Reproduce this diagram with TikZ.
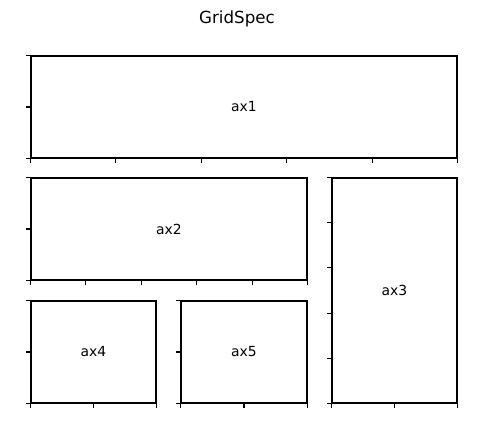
\documentclass[tikz,border=0pt]{standalone}
\usepackage{fontspec}
\setmainfont{DejaVu Sans}
\usetikzlibrary{calc,positioning}
\tikzset{
    axbox/.style 2 args={draw, line width=0.8pt, inner sep=0pt,
        minimum width={#1*0.72pt}, minimum height={#2*0.72pt}},
    tick/.style={line width=0.8pt}
}

\begin{document}
\begin{tikzpicture}[x=0.72pt, y=-0.72pt, font=\fontsize{10}{12}\selectfont]
                        \useasboundingbox (0,0) rectangle (497,427);
                        \node[font=\fontsize{12}{14}\selectfont] (title) at (237,19) {GridSpec};
                        \node[axbox={426}{102}] (ax1) at (244,107) {ax1};
                        \node[axbox={276}{102}] (ax2) at (169,229) {ax2};
                        \node[axbox={125}{225}] (ax3) at (394.5,290.5) {ax3};
                        \node[axbox={125}{102}] (ax4) at (93.5,352) {ax4};
                        \node[axbox={126}{102}] (ax5) at (244,352) {ax5};
                        % ticks
                        \foreach \i in {0,...,5} {
                            \draw[tick] ($(ax1.south west)!\i/5!(ax1.south east)$) -- ++(0,4);
                            \draw[tick] ($(ax2.south west)!\i/5!(ax2.south east)$) -- ++(0,4);
                            \draw[tick] ($(ax3.south west)!\i/5!(ax3.north west)$) -- ++(-4,0);
                        }
                        \foreach \i in {0,...,2} {
                            \draw[tick] ($(ax1.south west)!\i/2!(ax1.north west)$) -- ++(-4,0);
                            \draw[tick] ($(ax2.south west)!\i/2!(ax2.north west)$) -- ++(-4,0);
                            \draw[tick] ($(ax3.south west)!\i/2!(ax3.south east)$) -- ++(0,4);
                            \draw[tick] ($(ax4.south west)!\i/2!(ax4.north west)$) -- ++(-4,0);
                            \draw[tick] ($(ax4.south west)!\i/2!(ax4.south east)$) -- ++(0,4);
                            \draw[tick] ($(ax5.south west)!\i/2!(ax5.north west)$) -- ++(-4,0);
                            \draw[tick] ($(ax5.south west)!\i/2!(ax5.south east)$) -- ++(0,4);
                        }
                    \end{tikzpicture}
\end{document}
